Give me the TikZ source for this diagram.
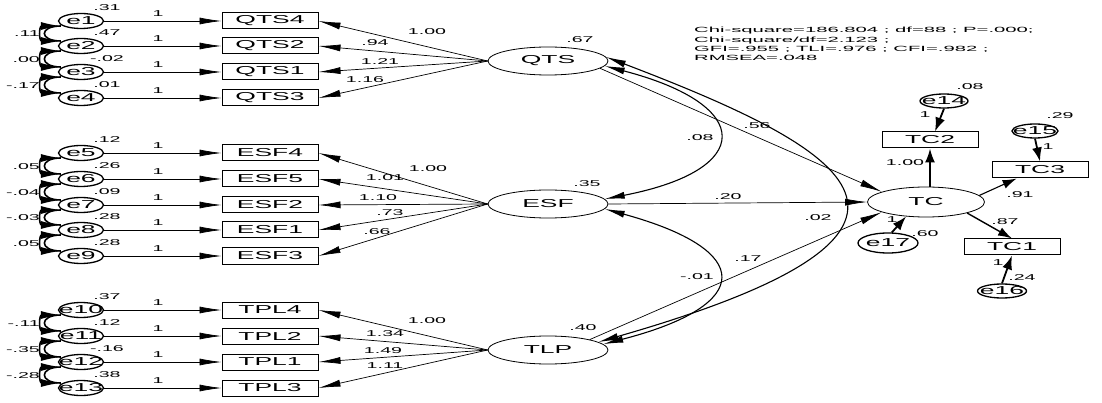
\documentclass[tikz,border=0pt]{standalone}
\usepackage{fontspec}
\setmainfont{Liberation Sans}[FakeStretch=2.3]
\newfontfamily\statfont{Liberation Sans}[FakeStretch=2.7]
\usetikzlibrary{shapes,arrows.meta}

\newcommand{\ename}[1]{\makebox[0pt]{#1}}

\tikzset{
	lat/.style={ellipse, draw, line width=0.8pt, minimum width=120pt, minimum height=28pt, inner sep=0pt, font=\fontsize{11.5}{11.5}\selectfont},
	err/.style={ellipse, draw, line width=1.3pt, minimum width=45pt, minimum height=15pt, inner sep=0pt, font=\fontsize{11.5}{11.5}\selectfont},
	obs/.style={rectangle, draw, line width=1pt, minimum width=96pt, minimum height=16pt, inner sep=0pt, font=\fontsize{11.5}{11.5}\selectfont},
	lbl/.style={inner sep=0pt, font=\fontsize{8.5}{8.5}\selectfont},
	reg/.style={-{Latex[length=22pt,width=7pt]}, line width=0.7pt},
	regb/.style={-{Latex[length=14pt,width=10pt]}, line width=1.8pt},
	covl/.style={{Latex[length=20pt,width=7pt]}-{Latex[length=20pt,width=7pt]}, line width=1.1pt},
	covline/.style={line width=1.6pt},
	covtip/.style={{Latex[length=20pt,width=8pt]}-{Latex[length=20pt,width=8pt]}, line width=1.6pt}
}

\begin{document}
\begin{tikzpicture}[x=1pt,y=1pt]
			\fill[white] (0,0) rectangle (1102,-403);
			\useasboundingbox (0,0) rectangle (1102,-403);
			
			\node[lat] (QTS) at (548,-61) {QTS};
			\node[lat] (ESF) at (548,-204) {ESF};
			\node[lat] (TLP) at (548,-350) {TLP};
			\node[lat, minimum width=117pt, minimum height=30pt] (TC) at (926,-202) {TC};
			
			\foreach \n/\b/\y/\v in {1/QTS4/21/.31, 2/QTS2/46/.47, 3/QTS1/72/-.02, 4/QTS3/98/.01,
				5/ESF4/153/.12, 6/ESF5/179/.26, 7/ESF2/205/.09, 8/ESF1/230/.28, 9/ESF3/256/.28,
				10/TPL4/310/.37, 11/TPL2/336/.12, 12/TPL1/362/-.16, 13/TPL3/388/.38}{
				\node[err] (e\n) at (81,-\y) {\ename{e\n}};
				\node[obs] (\b) at (270,-\y) {\b};
				\draw[reg] (e\n) -- (\b);
				\node[lbl] at (158,-\y+7) {1};
				\node[lbl] at (107,-\y+13) {\v};
			}
			
			\node[obs] (TC2) at (930,-140) {TC2};
			\node[obs] (TC3) at (1040,-170) {TC3};
			\node[obs] (TC1) at (1012,-247) {TC1};
			\node[err, minimum width=48pt, minimum height=14pt] (e14) at (944,-101) {\ename{e14}};
			\node[err, minimum width=46pt, minimum height=14pt] (e15) at (1035,-131) {\ename{e15}};
			\node[err, minimum width=49pt, minimum height=14pt] (e16) at (1002,-291) {\ename{e16}};
			\node[err, minimum width=60pt, minimum height=20pt] (e17) at (888,-243) {\ename{e17}};
			
			\foreach \a/\b in {QTS/QTS4, QTS/QTS2, QTS/QTS1, QTS/QTS3, ESF/ESF4, ESF/ESF5, ESF/ESF2, ESF/ESF1, ESF/ESF3, TLP/TPL4, TLP/TPL2, TLP/TPL1, TLP/TPL3}
				\draw[reg] (\a.west) -- (\b.east);
			
			\node[lbl] at (427,-32) {1.00};
			\node[lbl] at (375,-43) {.94};
			\node[lbl] at (380,-62) {1.21};
			\node[lbl] at (365,-80) {1.16};
			\node[lbl] at (428,-169) {1.00};
			\node[lbl] at (385,-178) {1.01};
			\node[lbl] at (378,-198) {1.10};
			\node[lbl] at (390,-213) {.73};
			\node[lbl] at (377,-232) {.66};
			\node[lbl] at (427,-321) {1.00};
			\node[lbl] at (385,-334) {1.34};
			\node[lbl] at (383,-351) {1.49};
			\node[lbl] at (385,-366) {1.11};
			
			\node[lbl, anchor=east] at (40,-34) {.11};
			\node[lbl, anchor=east] at (40,-60) {.00};
			\node[lbl, anchor=east] at (40,-86) {-.17};
			\node[lbl, anchor=east] at (40,-167) {.05};
			\node[lbl, anchor=east] at (40,-193) {-.04};
			\node[lbl, anchor=east] at (40,-218) {-.03};
			\node[lbl, anchor=east] at (40,-244) {.05};
			\node[lbl, anchor=east] at (40,-324) {-.11};
			\node[lbl, anchor=east] at (40,-350) {-.35};
			\node[lbl, anchor=east] at (40,-376) {-.28};
			\foreach \a/\b in {e1/e2, e2/e3, e3/e4, e5/e6, e6/e7, e7/e8, e8/e9, e10/e11, e11/e12, e12/e13}{
				\draw[covline] ([shift={(3pt,-5pt)}]\a.west) .. controls +(-22,0) and +(-22,0) .. ([shift={(3pt,5pt)}]\b.west);
				\draw[covtip] ([shift={(3pt,-5pt)}]\a.west) .. controls +(-22,0) and +(-22,0) .. ([shift={(3pt,5pt)}]\b.west);
			}
			
			\draw[reg] (QTS.-8) -- (TC.167);
			\draw[reg] (ESF.east) -- (TC.west);
			\draw[reg] (TLP.14) -- (TC.193);
			\draw[covl] (QTS.-5) .. controls (755,-105) and (755,-170) .. (ESF.5);
			\draw[covl] (ESF.-5) .. controls (755,-250) and (755,-305) .. (TLP.6);
			\draw[covl] (QTS.4) .. controls (850,-150) and (990,-230) .. (TLP.9);
			
			\draw[regb] (TC2.south |- TC.north) -- (TC2.south);
			\draw[-{Latex[length=14pt,width=9pt]}, line width=1.1pt] (TC.7) -- (TC3.200);
			\draw[-{Latex[length=14pt,width=9pt]}, line width=1.4pt] (TC.-15) -- (TC1.north);
			\draw[regb] (e14.south) -- ([xshift=5pt]TC2.north);
			\draw[regb] (e15.south) -- (TC3.north);
			\draw[regb] (e16.north) -- (TC1.south);
			\draw[regb] (e17.70) -- (TC.216);
			
			\node[lbl] at (580,-40) {.67};
			\node[lbl] at (587,-184) {.35};
			\node[lbl] at (583,-328) {.40};
			\node[lbl] at (757,-126) {.56};
			\node[lbl] at (728,-197) {.20};
			\node[lbl] at (748,-259) {.17};
			\node[lbl] at (700,-138) {.08};
			\node[lbl] at (818,-218) {.02};
			\node[lbl] at (697,-277) {-.01};
			
			\node[lbl] at (905,-163) {1.00};
			\node[lbl] at (970,-87) {.08};
			\node[lbl] at (925,-115) {1};
			\node[lbl] at (1060,-116) {.29};
			\node[lbl] at (1048,-147) {1};
			\node[lbl] at (1020,-195) {.91};
			\node[lbl] at (1005,-222) {.87};
			\node[lbl] at (925,-234) {.60};
			\node[lbl] at (892,-220) {1};
			\node[lbl] at (998,-263) {1};
			\node[lbl] at (1022,-278) {.24};
			
			\node[anchor=north west, inner sep=0pt, align=left, font=\statfont\fontsize{7.5}{9.4}\selectfont] (fit) at (694,-27) {Chi-square=186.804 ; df=88 ; P=.000;\\Chi-square/df=2.123 ;\\GFI=.955 ; TLI=.976 ; CFI=.982 ;\\RMSEA=.048};
		\end{tikzpicture}
\end{document}
